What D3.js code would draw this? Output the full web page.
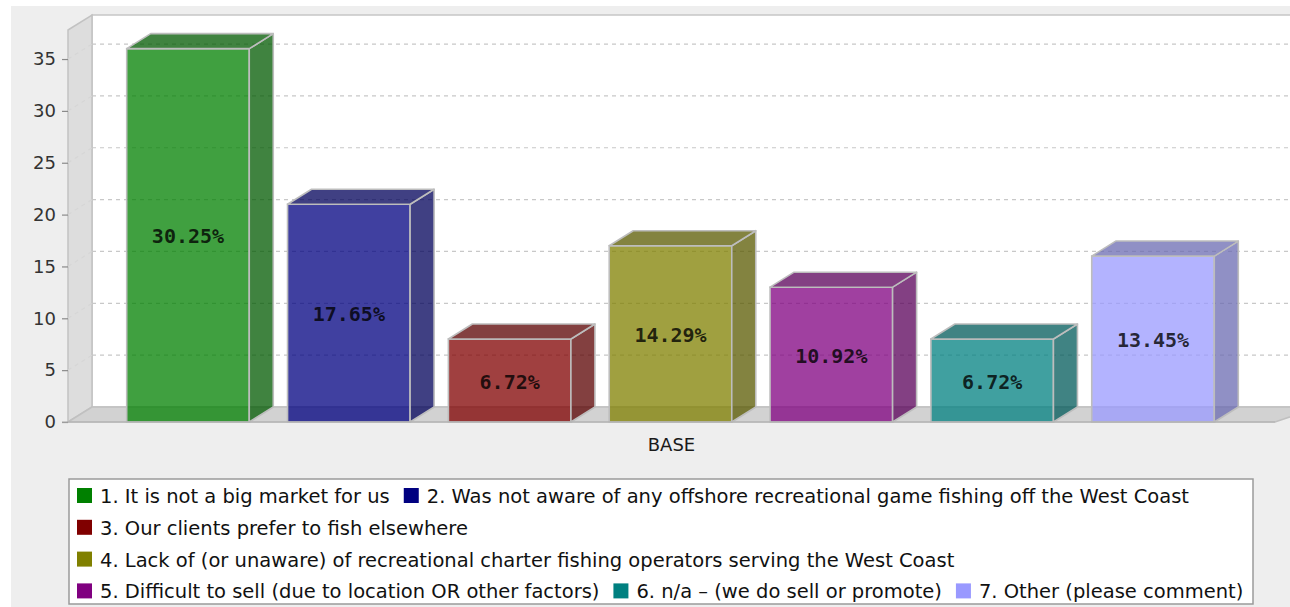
<!DOCTYPE html>
<html>
<head>
<meta charset="utf-8">
<script src="https://cdn.jsdelivr.net/npm/d3@7"></script>
<style>
  html, body { margin: 0; padding: 0; background: #ffffff; }
  svg { display: block; }
</style>
</head>
<body>
<svg id="chart" width="1290" height="607"></svg>
<script>
// Reasons given for not selling / promoting offshore game fishing (counts of respondents)
const categories = ["BASE"];
const seriesNames = [
  "1. It is not a big market for us",
  "2. Was not aware of any offshore recreational game fishing off the West Coast",
  "3. Our clients prefer to fish elsewhere",
  "4. Lack of (or unaware) of recreational charter fishing operators serving the West Coast",
  "5. Difficult to sell (due to location OR other factors)",
  "6. n/a \u2013 (we do sell or promote)",
  "7. Other (please comment)"
];
const seriesCounts = [36, 21, 8, 17, 13, 8, 16];
const seriesColors = ["#008000", "#000080", "#800000", "#808000", "#800080", "#008080", "#9999ff"];
const yTicks = [0, 5, 10, 15, 20, 25, 30, 35];

const total = d3.sum(seriesCounts);
const pctLabel = v => (v / total * 100).toFixed(2) + "%";

const svg = d3.select("#chart");
const W = 1290, H = 607;

// 3D geometry of the plot
const depthX = 24, depthY = 15;
const front = { left: 68, right: 1275, top: 30, bottom: 422 };

const y = d3.scaleLinear().domain([0, 37.8]).range([front.bottom, front.top]);
const x = d3.scaleBand()
  .domain(seriesNames)
  .range([front.left, 1273])
  .paddingInner(0.238)
  .paddingOuter(0.365);

// chart background
svg.append("rect").attr("width", W).attr("height", H).attr("fill", "#ffffff");
svg.append("rect").attr("x", 11).attr("y", 6).attr("width", W - 11).attr("height", H - 6).attr("fill", "#eeeeee");

// back wall
svg.append("rect")
  .attr("x", front.left + depthX).attr("y", front.top - depthY)
  .attr("width", W - (front.left + depthX) + 20)
  .attr("height", front.bottom - front.top)
  .attr("fill", "#ffffff")
  .attr("stroke", "#c6c6c6").attr("stroke-width", 1.5);

// left wall
svg.append("polygon")
  .attr("points", [
    [front.left, front.top],
    [front.left + depthX, front.top - depthY],
    [front.left + depthX, front.bottom - depthY],
    [front.left, front.bottom]
  ].map(p => p.join(",")).join(" "))
  .attr("fill", "#dddddd")
  .attr("stroke", "#c2c2c2").attr("stroke-width", 1.5);

// floor
svg.append("polygon")
  .attr("points", [
    [front.left, front.bottom],
    [front.left + depthX, front.bottom - depthY],
    [front.right + depthX + 20, front.bottom - depthY],
    [front.right, front.bottom]
  ].map(p => p.join(",")).join(" "))
  .attr("fill", "#d2d2d2")
  .attr("stroke", "#c0c0c0").attr("stroke-width", 1.5);

// gridlines on the back wall and the left wall
const gridTicks = yTicks.filter(t => t > 0);
const grid = svg.append("g");
grid.selectAll("line.back").data(gridTicks).join("line")
  .attr("class", "back")
  .attr("x1", front.left + depthX).attr("x2", W)
  .attr("y1", d => y(d) - depthY).attr("y2", d => y(d) - depthY)
  .attr("stroke", "#c8c8c8").attr("stroke-width", 1.2)
  .attr("stroke-dasharray", "4,4");
grid.selectAll("line.side").data(gridTicks).join("line")
  .attr("class", "side")
  .attr("x1", front.left).attr("x2", front.left + depthX)
  .attr("y1", d => y(d)).attr("y2", d => y(d) - depthY)
  .attr("stroke", "#d6d6d6").attr("stroke-width", 1.2)
  .attr("stroke-dasharray", "4,4");

// bars
const darker = c => {
  const r = d3.rgb(c);
  return d3.rgb(Math.floor(r.r * 0.7), Math.floor(r.g * 0.7), Math.floor(r.b * 0.7)).formatHex();
};
const barData = seriesNames.map((name, i) => ({ name, value: seriesCounts[i], color: seriesColors[i] }));
const bars = svg.append("g").selectAll("g").data(barData).join("g");
const outline = { stroke: "#bdbdbd", width: 1.6 };

bars.append("rect")
  .attr("x", d => x(d.name))
  .attr("y", d => y(d.value))
  .attr("width", x.bandwidth())
  .attr("height", d => y(0) - y(d.value))
  .attr("fill", d => d.color).attr("fill-opacity", 0.75)
  .attr("stroke", outline.stroke).attr("stroke-width", outline.width);

bars.append("polygon")
  .attr("points", d => {
    const x1 = x(d.name) + x.bandwidth(), yt = y(d.value), yb = y(0);
    return [[x1, yt], [x1 + depthX, yt - depthY], [x1 + depthX, yb - depthY], [x1, yb]]
      .map(p => p.join(",")).join(" ");
  })
  .attr("fill", d => darker(d.color)).attr("fill-opacity", 0.75)
  .attr("stroke", outline.stroke).attr("stroke-width", outline.width)
  .attr("stroke-linejoin", "round");

bars.append("polygon")
  .attr("points", d => {
    const x0 = x(d.name), x1 = x0 + x.bandwidth(), yt = y(d.value);
    return [[x0, yt], [x0 + depthX, yt - depthY], [x1 + depthX, yt - depthY], [x1, yt]]
      .map(p => p.join(",")).join(" ");
  })
  .attr("fill", d => darker(d.color)).attr("fill-opacity", 0.75)
  .attr("stroke", outline.stroke).attr("stroke-width", outline.width)
  .attr("stroke-linejoin", "round");

// value labels (share of all responses)
bars.append("text")
  .attr("x", d => x(d.name) + x.bandwidth() / 2)
  .attr("y", d => (y(d.value) + y(0)) / 2 + 8)
  .attr("text-anchor", "middle")
  .attr("font-family", "'DejaVu Sans Mono', monospace")
  .attr("font-weight", "bold")
  .attr("font-size", 20)
  .attr("fill", "#000000").attr("fill-opacity", 0.8)
  .text(d => pctLabel(d.value));

// value axis on the front-left edge
const yAxis = d3.axisLeft(y).tickValues(yTicks).tickSize(6).tickPadding(6).tickFormat(d3.format("d"));
const gy = svg.append("g").attr("transform", `translate(${front.left},0)`).call(yAxis);
gy.select(".domain").remove();
gy.selectAll(".tick line").attr("stroke", "#8a8a8a").attr("stroke-width", 1.2);
gy.selectAll(".tick text")
  .attr("font-family", "'DejaVu Sans', sans-serif")
  .attr("font-size", 18)
  .attr("fill", "#333333");
svg.append("line")
  .attr("x1", front.left - 6).attr("x2", front.right)
  .attr("y1", front.bottom).attr("y2", front.bottom)
  .attr("stroke", "#b0b0b0").attr("stroke-width", 1.2);

// category axis label
svg.append("text")
  .attr("x", (front.left + front.right) / 2)
  .attr("y", 451)
  .attr("text-anchor", "middle")
  .attr("font-family", "'DejaVu Sans', sans-serif")
  .attr("font-size", 18)
  .attr("fill", "#1a1a1a")
  .text(categories[0]);

// legend box with flowing items
const legend = svg.append("g");
legend.append("rect")
  .attr("x", 69).attr("y", 479).attr("width", 1184).attr("height", 125)
  .attr("fill", "#ffffff").attr("stroke", "#9a9a9a").attr("stroke-width", 1.5);

const sw = 15, swGap = 8, itemGap = 14, rowStep = 31.8, legendLeft = 77, legendRight = 1262;
const firstBaseline = 503;
const items = legend.selectAll("g.item").data(barData).join("g").attr("class", "item");
items.append("rect")
  .attr("width", sw).attr("height", sw)
  .attr("fill", d => d.color);
items.append("text")
  .attr("x", sw + swGap)
  .attr("y", sw)
  .attr("font-family", "'DejaVu Sans', sans-serif")
  .attr("font-size", 19.5)
  .attr("fill", "#111111")
  .text(d => d.name);

let cx = legendLeft, row = 0;
items.each(function () {
  const w = sw + swGap + d3.select(this).select("text").node().getComputedTextLength();
  if (cx > legendLeft && cx + w > legendRight) { row += 1; cx = legendLeft; }
  d3.select(this).attr("transform", `translate(${cx},${firstBaseline + row * rowStep - sw})`);
  cx += w + itemGap;
});
</script>
</body>
</html>
